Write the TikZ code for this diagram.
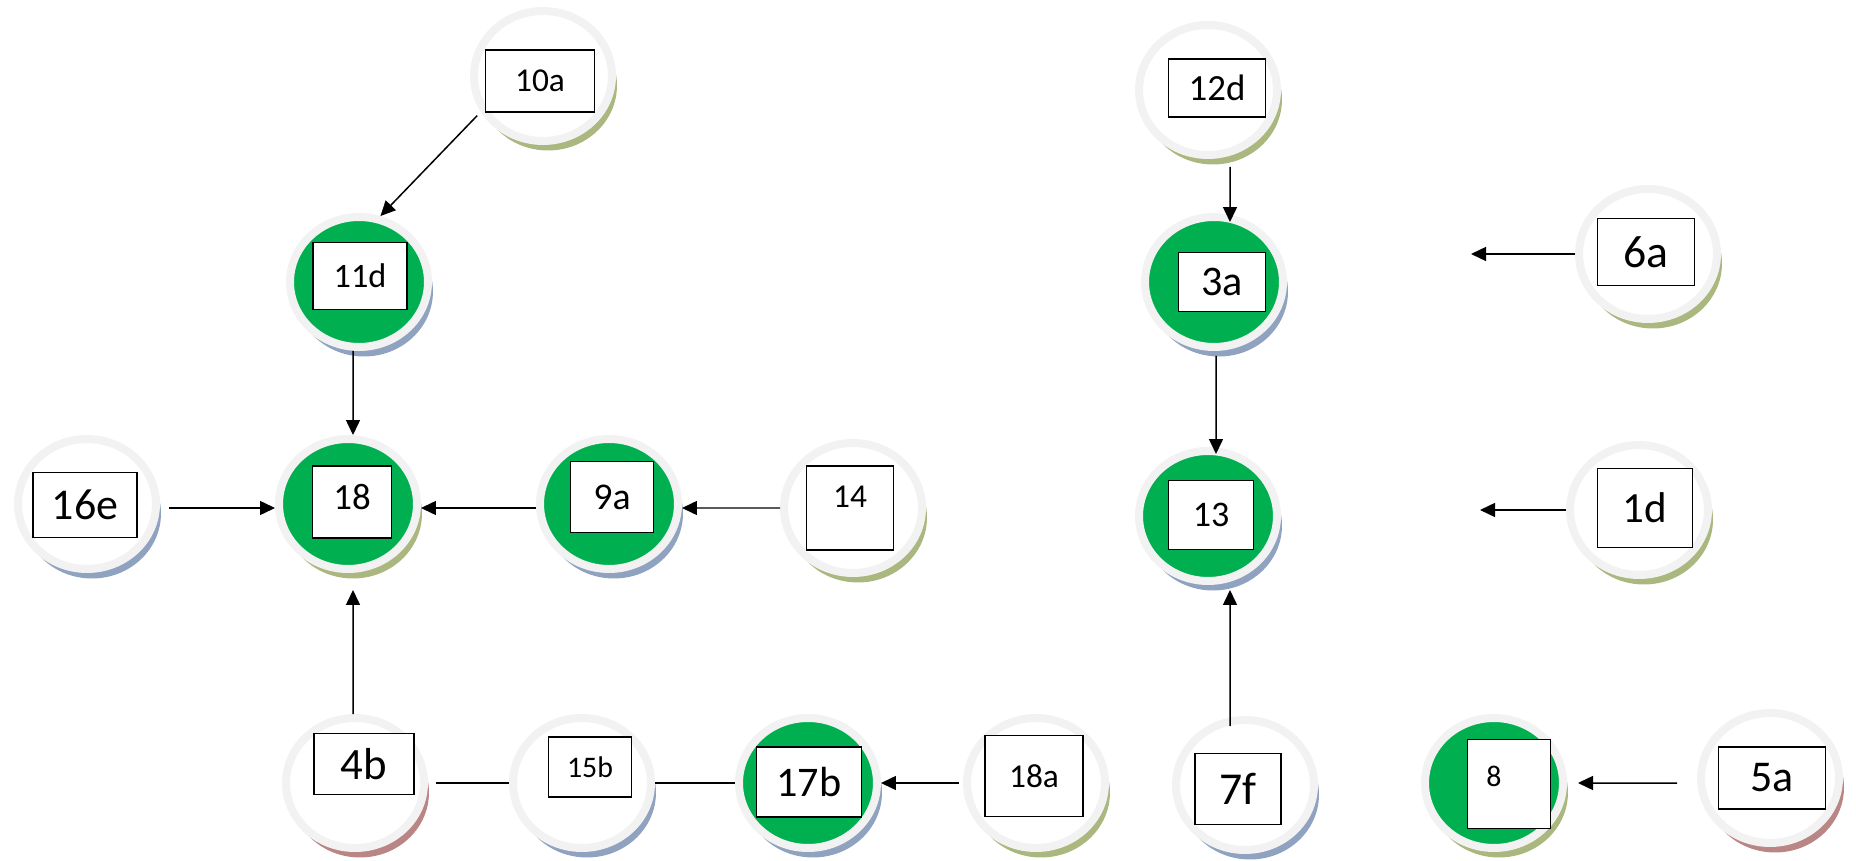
\documentclass[tikz,border=0pt]{standalone}
\usepackage{fontspec}
\setmainfont{Carlito}
\usetikzlibrary{shapes.geometric,shadows,arrows.meta}
\definecolor{ringgray}{HTML}{F2F2F2}
\definecolor{okgreen}{HTML}{00B050}
\definecolor{shblue}{HTML}{8FA2C0}
\definecolor{sholive}{HTML}{AAB77F}
\definecolor{shred}{HTML}{B98585}
\tikzset{
	stn/.style={ellipse, minimum width=2.76cm, minimum height=2.6cm, draw=ringgray, line width=0.16cm, fill=white},
	done/.style={fill=okgreen},
	shb/.style={drop shadow={shadow xshift=0.1cm, shadow yshift=-0.19cm, fill=shblue, opacity=1}},
	sho/.style={drop shadow={shadow xshift=0.1cm, shadow yshift=-0.19cm, fill=sholive, opacity=1}},
	shr/.style={drop shadow={shadow xshift=0.1cm, shadow yshift=-0.19cm, fill=shred, opacity=1}},
	lbl/.style={draw=black, line width=0.85pt, fill=white, inner sep=0pt},
	fs/.style={font=\fontsize{#1}{#1}\selectfont},
	arr/.style={-{Triangle[length=0.3cm,width=0.28cm]}, line width=0.85pt},
	lnk/.style={line width=0.85pt}
}
\begin{document}
\begin{tikzpicture}[x=0.02cm, y=-0.02cm]
	\useasboundingbox (0,0) rectangle (1856,861);
	% left group
	\node[stn, sho] (c10a) at (543,76) {};
	\node[lbl, fs=19, minimum width=2.18cm, minimum height=1.24cm] (b10a) at (540,81) {10a};
	\node[stn, done, shb] (c11d) at (359,282) {};
	\node[lbl, fs=19.5, minimum width=1.88cm, minimum height=1.34cm] (b11d) at (360,276) {11d};
	\node[stn, done, sho] (c18) at (348,504) {};
	\node[lbl, fs=21, minimum width=1.58cm, minimum height=1.44cm, text depth=0.2cm] (b18) at (352,502) {18};
	\node[stn, shb] (c16e) at (87,504) {};
	\node[lbl, fs=25, minimum width=2.08cm, minimum height=1.3cm] (b16e) at (85,505) {16e};
	\node[stn, done, shb] (c9a) at (609,504) {};
	\node[lbl, fs=21.5, minimum width=1.66cm, minimum height=1.42cm] (b9a) at (612,497) {9a};
	\node[stn, sho] (c14) at (853,508) {};
	\node[lbl, fs=19, minimum width=1.74cm, minimum height=1.68cm, text depth=0.44cm] (b14) at (850,508) {14};
	% bottom row
	\node[stn, shr] (c4b) at (355,783) {};
	\node[lbl, fs=25.5, minimum width=2cm, minimum height=1.22cm] (b4b) at (364,764) {4b};
	\node[stn, shb] (c15b) at (582,783) {};
	\node[lbl, fs=17, minimum width=1.66cm, minimum height=1.2cm] (b15b) at (590,767) {15b};
	\node[stn, done, shb] (c17b) at (808,783) {};
	\node[lbl, fs=24, minimum width=2.1cm, minimum height=1.4cm] (b17b) at (809,782) {17b};
	\node[stn, sho] (c18a) at (1036,783) {};
	\node[lbl, fs=19, minimum width=1.96cm, minimum height=1.62cm] (b18a) at (1034,776) {18a};
	% right group
	\node[stn, sho] (c12d) at (1208,90) {};
	\node[lbl, fs=21, minimum width=1.94cm, minimum height=1.16cm] (b12d) at (1217,88) {12d};
	\node[stn, done, shb] (c3a) at (1214,282) {};
	\node[lbl, fs=24, minimum width=1.74cm, minimum height=1.18cm] (b3a) at (1222,282) {3a};
	\node[stn, done, shb] (c13) at (1208,516) {};
	\node[lbl, fs=20.5, minimum width=1.7cm, minimum height=1.38cm] (b13) at (1211,515) {13};
	\node[stn, shb] (c7f) at (1245,785) {};
	\node[lbl, fs=26, minimum width=1.72cm, minimum height=1.42cm] (b7f) at (1238,789) {7f};
	\node[stn, sho] (c6a) at (1648,254) {};
	\node[lbl, fs=26, minimum width=1.94cm, minimum height=1.34cm] (b6a) at (1646,252) {6a};
	\node[stn, sho] (c1d) at (1639,510) {};
	\node[lbl, fs=24.5, minimum width=1.9cm, minimum height=1.58cm] (b1d) at (1645,508) {1d};
	\node[stn, done, sho] (c8) at (1494,783) {};
	\node[lbl, fs=17, minimum width=1.66cm, minimum height=1.78cm, text depth=0.3cm] (b8) at (1509,784) {8\hspace*{0.6cm}};
	\node[stn, shr] (c5a) at (1770,778) {};
	\node[lbl, fs=25, minimum width=2.14cm, minimum height=1.24cm] (b5a) at (1772,778) {5a};
	\coordinate (e6a) at (1471,254);
	\coordinate (e1d) at (1480,510);
	% connectors
	\draw[arr, shorten <=0.1cm] (c10a.210) -- (c11d.72);
	\draw[arr] ([xshift=-0.12cm]c11d.south) -- ([xshift=0.1cm]c18.north);
	\draw[arr, shorten <=0.18cm] ([yshift=-0.08cm]c16e.east) -- ([yshift=-0.08cm]c18.west);
	\draw[arr] ([yshift=-0.08cm]c9a.west) -- ([yshift=-0.08cm]c18.east);
	\draw[arr] (c14.west) -- ([yshift=-0.08cm]c9a.east);
	\draw[arr, shorten >=0.34cm] ([xshift=-0.04cm]c4b.north) -- ([xshift=0.1cm]c18.south);
	\draw[lnk, shorten <=0.16cm] (c4b.east) -- (c15b.west);
	\draw[lnk] (c15b.east) -- (c17b.west);
	\draw[arr, shorten <=0.08cm] (c18a.west) -- (c17b.east);
	\draw[arr, shorten <=0.16cm] ([xshift=0.44cm]c12d.south) -- ([xshift=0.32cm,yshift=-0.18cm]c3a.north);
	\draw[arr, shorten <=0.1cm] ([xshift=0.04cm]c3a.south) -- ([xshift=0.16cm,yshift=-0.14cm]c13.north);
	\draw[arr, shorten >=0.1cm] ([xshift=-0.3cm,yshift=-0.2cm]c7f.north) -- ([xshift=0.44cm]c13.south);
	\draw[arr] (c6a.west) -- (e6a);
	\draw[arr] (c1d.west) -- (e1d);
	\draw[arr, shorten <=0.4cm, shorten >=0.22cm] ([yshift=-0.1cm]c5a.west) -- (c8.east);
\end{tikzpicture}
\end{document}
